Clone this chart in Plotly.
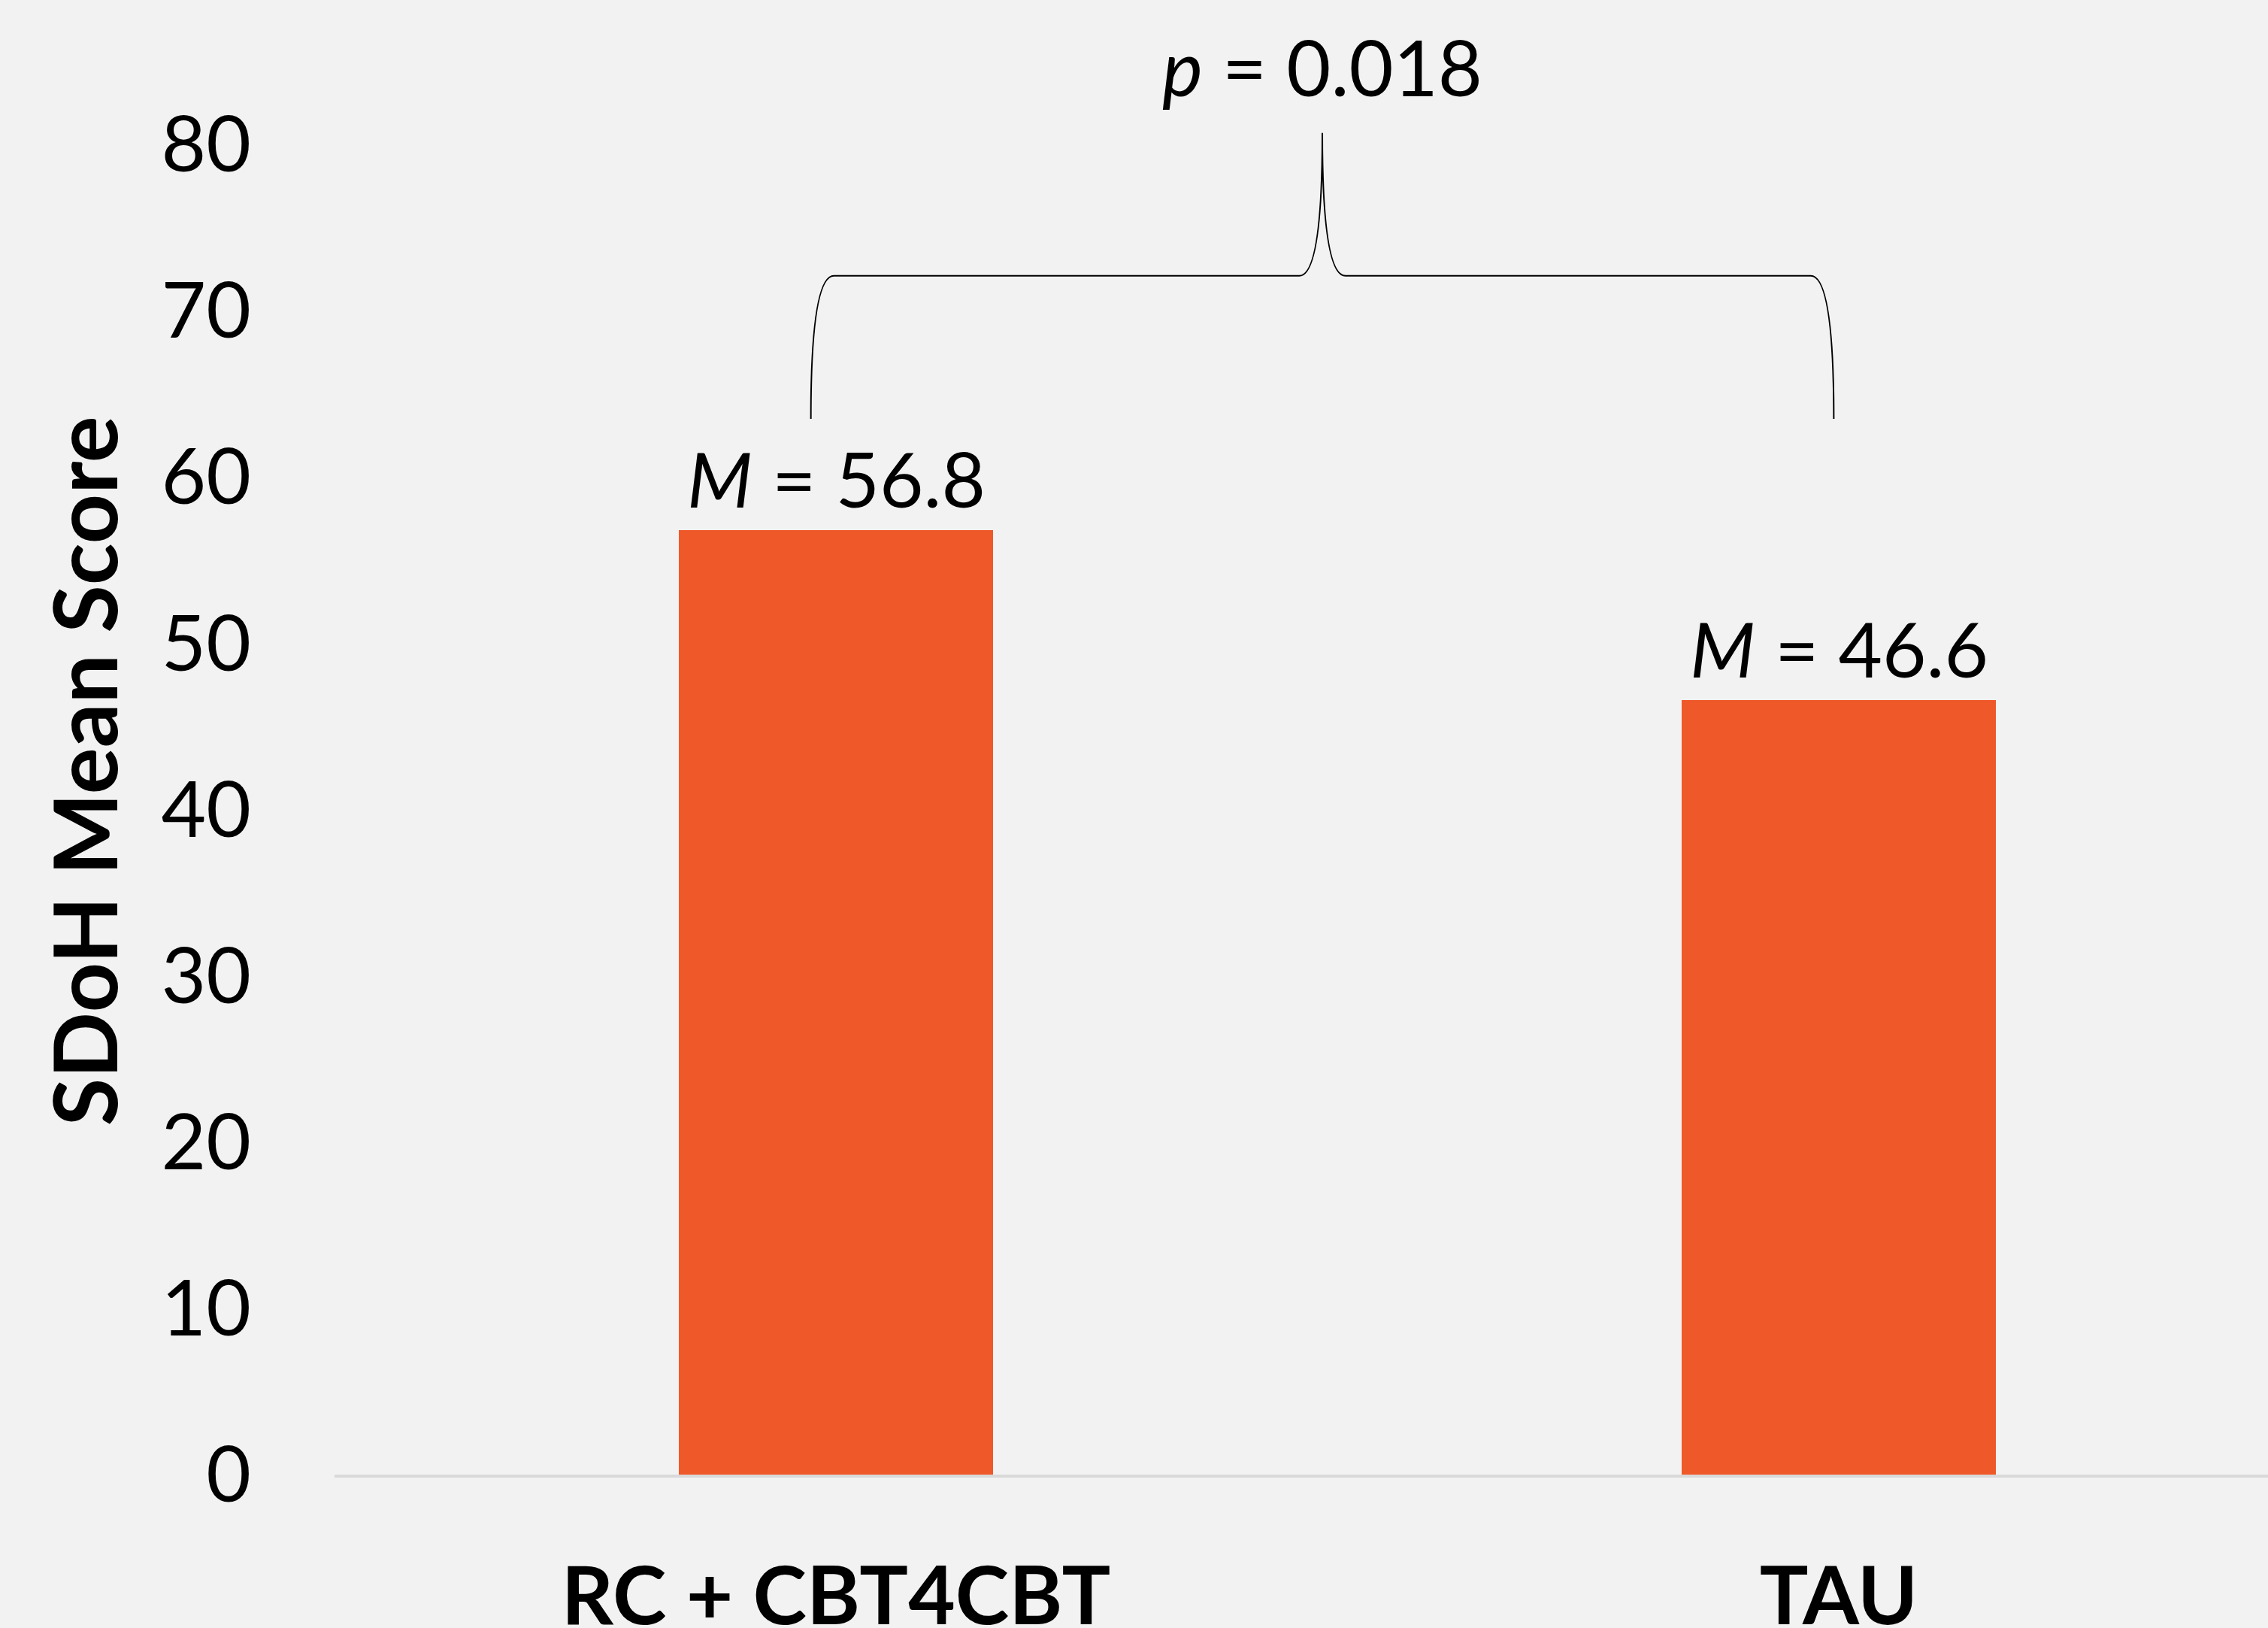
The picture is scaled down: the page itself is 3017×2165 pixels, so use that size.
import plotly.graph_objects as go

# ---- data ----
categories = ["RC + CBT4CBT", "TAU"]
mean_scores = [56.8, 46.6]
p_value_text = "0.018"
y_ticks = [0, 10, 20, 30, 40, 50, 60, 70, 80]
axis_title = "SDoH Mean Score"

# brace levels (data units): bottom of the legs, horizontal bar, tip
brace_levels = [63.5, 72.1, 80.7]

# ---- style ----
BG = "#F2F2F2"
BAR = "#EF5829"
FONT = "Lato"

x_pos = list(range(len(categories)))

fig = go.Figure()
fig.add_trace(go.Bar(
    x=x_pos, y=mean_scores, width=0.313,
    marker=dict(color=BAR, line=dict(width=0)),
    hoverinfo="skip",
))

# value labels
for xi, v in zip(x_pos, mean_scores):
    fig.add_annotation(
        x=xi, y=v, xref="x", yref="y",
        text=f"<i>M</i> = {v:.1f}", showarrow=False,
        xanchor="center", yanchor="bottom", yshift=6,
        font=dict(family=FONT, size=101, color="black"),
    )

# brace
yb, yh, yt = brace_levels
x0 = x_pos[0] - 0.025
x1 = x_pos[1] - 0.005
xm = (x0 + x1) / 2
dx = 0.023
path = (
    f"M {x0},{yb} Q {x0},{yh} {x0+dx},{yh} "
    f"L {xm-dx},{yh} Q {xm},{yh} {xm},{yt} "
    f"Q {xm},{yh} {xm+dx},{yh} "
    f"L {x1-dx},{yh} Q {x1},{yh} {x1},{yb}"
)
fig.add_shape(type="path", path=path, xref="x", yref="y",
              line=dict(color="black", width=2))

fig.add_annotation(
    x=xm, y=84.7, xref="x", yref="y",
    text=f"<i>p</i> = {p_value_text}", showarrow=False,
    xanchor="center", yanchor="middle",
    font=dict(family=FONT, size=102, color="black"),
)

# y-axis title
fig.add_annotation(
    x=-0.1295, y=0.477, xref="paper", yref="paper",
    text=f"<b>{axis_title}</b>", showarrow=False, textangle=-90,
    xanchor="center", yanchor="middle",
    font=dict(family=FONT, size=116, color="black"),
)

fig.update_layout(
    width=3017, height=2165,
    paper_bgcolor=BG, plot_bgcolor=BG,
    margin=dict(l=445, r=0, t=0, b=204, autoexpand=False),
    showlegend=False,
    bargap=0,
    xaxis=dict(
        range=[-0.5, 1.428], tickmode="array", tickvals=x_pos,
        ticktext=[f"<b>{c}</b>" for c in categories],
        tickfont=dict(family=FONT, size=108, color="black"),
        showline=True, linecolor="#D9D9D9", linewidth=4,
        showgrid=False, zeroline=False, ticks="",
        ticklabelstandoff=65, automargin=False,
    ),
    yaxis=dict(
        range=[0, 88.69], tickmode="array", tickvals=y_ticks,
        tickfont=dict(family=FONT, size=103, color="black"),
        showline=False, showgrid=False, zeroline=False, ticks="",
        ticklabelstandoff=110, automargin=False,
    ),
)

fig.write_html(
    "out.html",
    config={"displayModeBar": False},
    post_script="document.body.style.margin='0';document.body.style.background='#F2F2F2';",
)
